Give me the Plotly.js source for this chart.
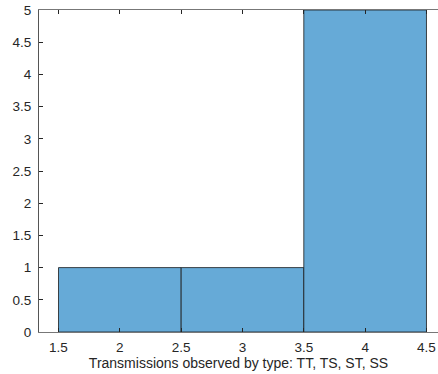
<!DOCTYPE html>
<html>
<head>
<meta charset="utf-8">
<script src="https://cdn.plot.ly/plotly-3.0.1.min.js"></script>
<style>html,body{margin:0;padding:0;background:#fff;}#chart{width:438px;height:374px;}</style>
</head>
<body>
<div id="chart"></div>
<script>
const binEdges = [1.5, 2.5, 3.5, 4.5];
const counts = [1, 1, 5];
const xTicks = [1.5, 2, 2.5, 3, 3.5, 4, 4.5];
const yTicks = [0, 0.5, 1, 1.5, 2, 2.5, 3, 3.5, 4, 4.5, 5];
const xLabel = 'Transmissions observed by type: TT, TS, ST, SS';

const centers = counts.map((c, i) => (binEdges[i] + binEdges[i + 1]) / 2);
const widths = counts.map((c, i) => binEdges[i + 1] - binEdges[i]);

const trace = {
  type: 'bar',
  x: centers,
  y: counts,
  width: widths,
  marker: { color: '#66AAD7', line: { color: '#1a1a1a', width: 0.8 } },
  hoverinfo: 'x+y'
};

const font = { family: 'Liberation Sans, Arial, sans-serif', size: 13.5, color: '#262626' };

const layout = {
  width: 438, height: 374,
  margin: { l: 39, r: 0, t: 10, b: 42, pad: 0 },
  paper_bgcolor: '#fff', plot_bgcolor: '#fff',
  showlegend: false,
  bargap: 0,
  font: font,
  xaxis: {
    range: [1.341, 4.594],
    tickvals: xTicks,
    ticktext: xTicks.map(String),
    ticks: 'inside', ticklen: 4, tickcolor: '#262626', tickwidth: 1,
    ticklabelstandoff: 3,
    showline: true, linecolor: '#777', linewidth: 1, mirror: 'ticks',
    showgrid: false, zeroline: false,
    tickfont: font,
    title: { text: xLabel, font: { family: font.family, size: 14, color: '#262626' }, standoff: 2 }
  },
  yaxis: {
    range: [0, 5],
    tickvals: yTicks,
    ticktext: yTicks.map(String),
    ticks: 'inside', ticklen: 4, tickcolor: '#262626', tickwidth: 1,
    ticklabelstandoff: 4,
    showline: true, linecolor: '#555', linewidth: 1, mirror: false,
    showgrid: false, zeroline: false,
    tickfont: font
  }
};

Plotly.newPlot('chart', [trace], layout, { displayModeBar: false, staticPlot: true });
</script>
</body>
</html>
